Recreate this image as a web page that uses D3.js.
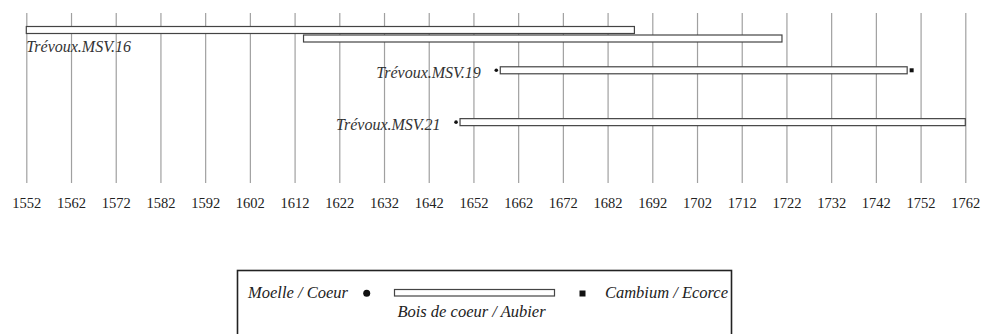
<!DOCTYPE html>
<html>
<head>
<meta charset="utf-8">
<script src="https://cdn.jsdelivr.net/npm/d3@7"></script>
<style>
  body { margin: 0; background: #fff; }
  svg { display: block; }
  .tick text { font-family: "Liberation Serif", serif; font-size: 14.5px; fill: #222; }
  .lbl { font-family: "Liberation Serif", serif; font-style: italic; font-size: 16px; fill: #333; }
  .leg { font-family: "Liberation Serif", serif; font-style: italic; font-size: 16.5px; fill: #222; }
</style>
</head>
<body>
<script>
// ---- data ----
const labels = ["Trévoux.MSV.16", "", "Trévoux.MSV.19", "Trévoux.MSV.21"];
const starts = [1552, 1614, 1658, 1649];
const ends   = [1688, 1721, 1749, 1762];
const pith   = [null, null, 1657, 1648];
const bark   = [null, null, 1750, null];
const tracks = [1, 1.5, 3.37, 6.42];
const tickYears = d3.range(1552, 1763, 10);
const legendLabels = ["Moelle / Coeur", "Bois de coeur / Aubier", "Cambium / Ecorce"];

const W = 982, H = 334;
const svg = d3.select("body").append("svg").attr("width", W).attr("height", H);

const x = d3.scaleLinear().domain([1552, 1762]).range([26.3, 965.3]);
const y = d3.scaleLinear().domain([0, 10]).range([13, 183]);

// grid + axis
const axis = d3.axisBottom(x).tickValues(tickYears).tickFormat(d3.format("d"))
  .tickSizeInner(-170).tickSizeOuter(0).tickPadding(15);
const gAx = svg.append("g").attr("transform", "translate(0,183)").call(axis);
gAx.select(".domain").remove();
gAx.selectAll(".tick line").attr("stroke", "#a0a0a0").attr("stroke-width", 1.2);

const rows = labels.map((l, i) => ({ label: l, s: starts[i], e: ends[i], p: pith[i], b: bark[i], t: tracks[i] }));
const bh = 7;
const g = svg.append("g");

g.selectAll("rect.bar").data(rows).join("rect").attr("class", "bar")
  .attr("x", d => x(d.s)).attr("y", d => y(d.t) - bh / 2)
  .attr("width", d => x(d.e) - x(d.s)).attr("height", bh)
  .attr("fill", "#fff").attr("stroke", "#444").attr("stroke-width", 1.2);

g.selectAll("circle.pith").data(rows.filter(d => d.p != null)).join("circle").attr("class", "pith")
  .attr("cx", d => x(d.p) + 0.5).attr("cy", d => y(d.t)).attr("r", 1.8).attr("fill", "#111");

g.selectAll("rect.bark").data(rows.filter(d => d.b != null)).join("rect").attr("class", "bark")
  .attr("x", d => x(d.b) - 2).attr("y", d => y(d.t) - 2).attr("width", 4).attr("height", 4).attr("fill", "#111");

g.selectAll("text.lbl").data(rows.filter(d => d.label)).join("text").attr("class", "lbl")
  .each(function (d) {
    const t = d3.select(this).text(d.label);
    if (d.s <= x.domain()[0]) {
      t.attr("x", x(d.s)).attr("y", y(d.t) + 21.5).attr("text-anchor", "start");
    } else {
      const ref = d.p != null ? x(d.p) : x(d.s);
      t.attr("x", ref - 15).attr("y", y(d.t) + 8).attr("text-anchor", "end");
    }
  });

// legend
const lg = svg.append("g");
lg.append("rect").attr("x", 237.5).attr("y", 270.5).attr("width", 494).attr("height", 80)
  .attr("fill", "#fff").attr("stroke", "#222").attr("stroke-width", 1.6);
lg.append("text").attr("class", "leg").attr("x", 248).attr("y", 298).text(legendLabels[0]);
lg.append("circle").attr("cx", 366.7).attr("cy", 293.3).attr("r", 3.5).attr("fill", "#111");
lg.append("rect").attr("x", 394.5).attr("y", 289.5).attr("width", 160).attr("height", 6.5)
  .attr("fill", "#fff").attr("stroke", "#444").attr("stroke-width", 1.2);
lg.append("rect").attr("x", 579.5).attr("y", 290.5).attr("width", 6).attr("height", 6).attr("fill", "#111");
lg.append("text").attr("class", "leg").attr("x", 728).attr("y", 298).attr("text-anchor", "end").text(legendLabels[2]);
lg.append("text").attr("class", "leg").attr("x", 471.5).attr("y", 316.5).attr("text-anchor", "middle").text(legendLabels[1]);
</script>
</body>
</html>
